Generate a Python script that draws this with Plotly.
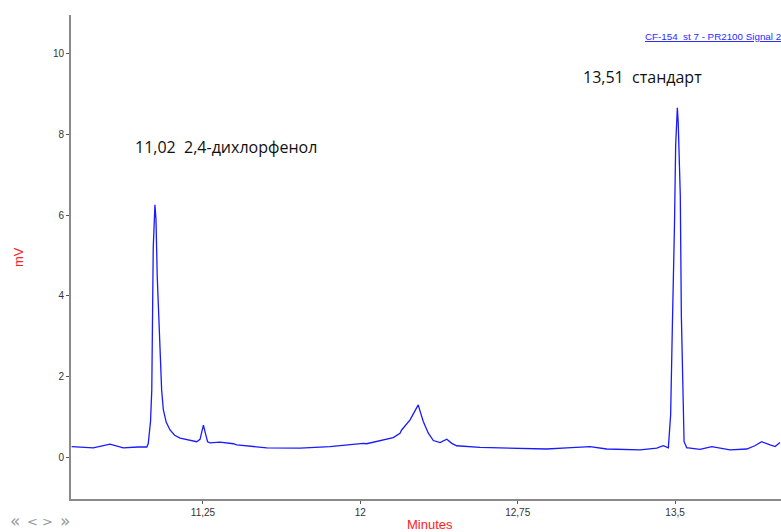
import plotly.graph_objects as go

# Chromatogram trace (minutes, mV)
time_min = [10.624, 10.727, 10.807, 10.870, 10.940, 10.982, 10.989, 11.000, 11.006, 11.013,
            11.021, 11.026, 11.032, 11.042, 11.045, 11.053, 11.061, 11.075, 11.093, 11.115,
            11.141, 11.180, 11.220, 11.236, 11.245, 11.252, 11.262, 11.272, 11.284, 11.331,
            11.395, 11.411, 11.554, 11.713, 11.855, 11.871, 12.014, 12.030, 12.094, 12.110,
            12.157, 12.189, 12.197, 12.237, 12.265, 12.276, 12.288, 12.300, 12.324, 12.348,
            12.380, 12.412, 12.436, 12.459, 12.570, 12.729, 12.888, 12.984, 13.095, 13.174,
            13.285, 13.333, 13.413, 13.437, 13.444, 13.468, 13.479, 13.487, 13.492, 13.497,
            13.503, 13.508, 13.511, 13.515, 13.519, 13.525, 13.530, 13.537, 13.543, 13.556,
            13.563, 13.619, 13.667, 13.675, 13.762, 13.842, 13.880, 13.913, 13.953, 13.977,
            14.000]
signal_mv = [0.28, 0.25, 0.34, 0.25, 0.27, 0.27, 0.35, 0.90, 1.68, 5.20,
             6.25, 5.90, 4.48, 2.91, 2.60, 1.68, 1.19, 0.88, 0.69, 0.56,
             0.49, 0.44, 0.40, 0.46, 0.65, 0.81, 0.60, 0.40, 0.37, 0.39,
             0.35, 0.32, 0.25, 0.24, 0.28, 0.29, 0.36, 0.35, 0.43, 0.44,
             0.50, 0.61, 0.69, 0.94, 1.19, 1.31, 1.10, 0.90, 0.61, 0.43,
             0.38, 0.46, 0.36, 0.30, 0.26, 0.24, 0.22, 0.25, 0.28, 0.22,
             0.20, 0.20, 0.24, 0.28, 0.30, 0.25, 1.06, 3.20, 4.35, 5.68,
             7.73, 8.40, 8.65, 8.30, 7.73, 6.49, 3.53, 1.56, 0.40, 0.25,
             0.25, 0.21, 0.26, 0.28, 0.20, 0.22, 0.30, 0.40, 0.32, 0.28,
             0.38]

x_tick_vals = [11.25, 12.0, 12.75, 13.5]
x_tick_text = ["11,25", "12", "12,75", "13,5"]
y_tick_vals = [0, 2, 4, 6, 8, 10]

peak_labels = ["11,02  2,4-дихлорфенол", "13,51  стандарт"]
peak_label_x = [10.915, 13.050]
peak_label_y = [7.68, 9.41]

nav_glyphs = ["«", "<", ">", "»"]
nav_sizes = [17, 13, 13, 17]

L, T, R, B = 71, 15, 781, 499
PW, PH = R - L, B - T


def px_x(px):
    return (px - L) / PW


def px_y(py):
    return 1 - (py - T) / PH


fig = go.Figure()
fig.add_trace(go.Scatter(x=time_min, y=signal_mv, mode="lines",
                         line=dict(color="#1a1aff", width=1.3), showlegend=False,
                         hoverinfo="skip"))

for txt, lx, ly in zip(peak_labels, peak_label_x, peak_label_y):
    fig.add_annotation(x=lx, y=ly, xref="x", yref="y", text=txt, showarrow=False,
                       xanchor="left", yanchor="middle",
                       font=dict(family="Open Sans, Noto Sans, sans-serif", size=16, color="#111111"))

fig.add_annotation(x=px_x(643), y=px_y(37), xref="paper", yref="paper",
                   text="<u>CF-154_st 7 - PR2100 Signal 2</u>",
                   showarrow=False, xanchor="left", yanchor="middle",
                   font=dict(family="Liberation Sans, Arial, sans-serif", size=9.8, color="#2a2aff"))

fig.update_layout(
    width=781, height=532,
    margin=dict(l=L, r=781 - R, t=T, b=532 - B),
    paper_bgcolor="white", plot_bgcolor="white",
    xaxis=dict(range=[10.621, 14.005], tickvals=x_tick_vals, ticktext=x_tick_text,
               showgrid=False, zeroline=False, showline=True, linecolor="#8a8a8a", linewidth=2,
               ticks="outside", ticklen=3, tickcolor="#555555",
               tickfont=dict(family="Liberation Sans Narrow, Liberation Sans, Arial, sans-serif", size=10, color="#333333")),
    yaxis=dict(range=[-1.015, 10.94], tickvals=y_tick_vals,
               showgrid=False, zeroline=False, showline=True, linecolor="#8a8a8a", linewidth=2,
               ticks="outside", ticklen=3, tickcolor="#555555",
               tickfont=dict(family="Liberation Sans Narrow, Liberation Sans, Arial, sans-serif", size=10, color="#333333")),
)

fig.add_annotation(x=px_x(18), y=0.5, xref="paper", yref="paper", text="mV", textangle=-90,
                   showarrow=False, xanchor="center", yanchor="middle",
                   font=dict(family="Liberation Sans, Arial, sans-serif", size=13, color="#ff2020"))
fig.add_annotation(x=px_x(430), y=px_y(524), xref="paper", yref="paper", text="Minutes",
                   showarrow=False, xanchor="center", yanchor="middle",
                   font=dict(family="Liberation Sans, Arial, sans-serif", size=13, color="#ff2020"))
for g, cx, fs in zip(nav_glyphs, [15, 32, 47, 65], nav_sizes):
    fig.add_annotation(x=px_x(cx), y=px_y(521), xref="paper", yref="paper",
                       text=g, showarrow=False, xanchor="center", yanchor="middle",
                       font=dict(family="DejaVu Sans, sans-serif", size=fs, color="#9a9a9a"))

fig.write_html("out.html")
